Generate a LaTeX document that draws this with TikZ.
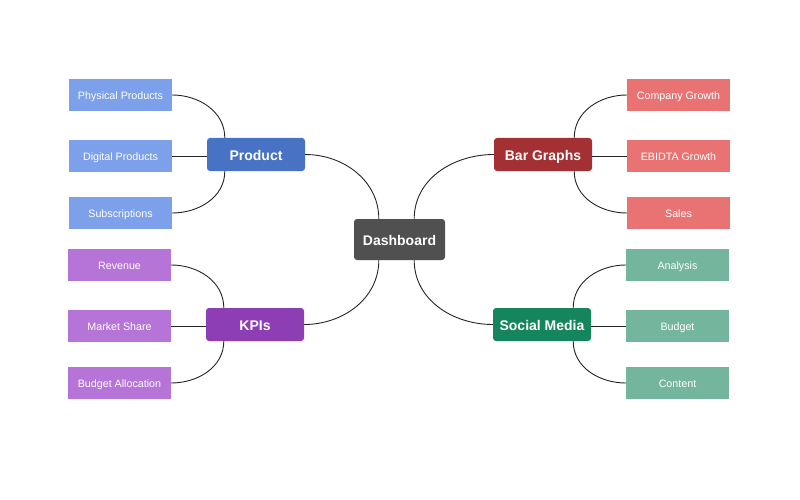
\documentclass[tikz,border=0pt]{standalone}
\usepackage{fontspec}
\setmainfont{Liberation Sans}
\usetikzlibrary{calc}
\definecolor{cdash}{HTML}{505050}
\definecolor{cprod}{HTML}{4872C4}
\definecolor{lprod}{HTML}{7DA0EB}
\definecolor{cbar}{HTML}{A33032}
\definecolor{lbar}{HTML}{E97373}
\definecolor{ckpi}{HTML}{8E3EB4}
\definecolor{lkpi}{HTML}{B673D8}
\definecolor{csoc}{HTML}{15855E}
\definecolor{lsoc}{HTML}{74B69D}
\tikzset{
  mainbox/.style={draw=none, rounded corners=3pt, text=white, font=\bfseries\fontsize{14}{16}\selectfont, inner sep=0pt, minimum height=33pt, text height=11pt, text depth=0pt},
  leafbox/.style={draw=none, text=white, font=\fontsize{10.7}{12}\selectfont, inner sep=0pt, minimum width=103pt, minimum height=32pt, text height=8.5pt, text depth=0pt},
  conn/.style={draw=black!85, line width=0.9pt},
}
\begin{document}
\begin{tikzpicture}[x=1pt,y=-1pt]
\useasboundingbox (0,0) rectangle (800,500);
\fill[white] (0,0) rectangle (800,500);
% main nodes
\node[mainbox, fill=cdash, minimum width=91pt, minimum height=41pt] (dash) at (399.5,239.5) {Dashboard};
\node[mainbox, fill=cprod, minimum width=98pt] (prod) at (256,154.5) {Product};
\node[mainbox, fill=cbar, minimum width=98pt] (bar) at (543,154.5) {Bar Graphs};
\node[mainbox, fill=ckpi, minimum width=98pt] (kpi) at (255,324.5) {KPIs};
\node[mainbox, fill=csoc, minimum width=98pt] (soc) at (542,324.5) {Social Media};
% leaves
\node[leafbox, fill=lprod] (pp) at (120.5,95) {Physical Products};
\node[leafbox, fill=lprod] (dp) at (120.5,156) {Digital Products};
\node[leafbox, fill=lprod] (sub) at (120.5,213) {Subscriptions};
\node[leafbox, fill=lbar] (cg) at (678.5,95) {Company Growth};
\node[leafbox, fill=lbar] (eg) at (678.5,156) {EBIDTA Growth};
\node[leafbox, fill=lbar] (sa) at (678.5,213) {Sales};
\node[leafbox, fill=lkpi] (rev) at (119.5,265) {Revenue};
\node[leafbox, fill=lkpi] (ms) at (119.5,326) {Market Share};
\node[leafbox, fill=lkpi] (ba) at (119.5,383) {Budget Allocation};
\node[leafbox, fill=lsoc] (an) at (677.5,265) {Analysis};
\node[leafbox, fill=lsoc] (bu) at (677.5,326) {Budget};
\node[leafbox, fill=lsoc] (co) at (677.5,383) {Content};
% anchor coordinates
\coordinate (dtl) at ($(dash.north west)+(25,0)$);
\coordinate (dtr) at ($(dash.north east)+(-31,0)$);
\coordinate (dbl) at ($(dash.south west)+(25,0)$);
\coordinate (dbr) at ($(dash.south east)+(-31,0)$);
\coordinate (pt) at ($(prod.north west)+(18,0)$);
\coordinate (pb) at ($(prod.south west)+(18,0)$);
\coordinate (bt) at ($(bar.north east)+(-18,0)$);
\coordinate (bb) at ($(bar.south east)+(-18,0)$);
\coordinate (kt) at ($(kpi.north west)+(18,0)$);
\coordinate (kb) at ($(kpi.south west)+(18,0)$);
\coordinate (st) at ($(soc.north east)+(-18,0)$);
\coordinate (sb) at ($(soc.south east)+(-18,0)$);
% connectors dashboard
\draw[conn] (prod.east) to[out=0,in=90] (dtl);
\draw[conn] (bar.west) to[out=180,in=90] (dtr);
\draw[conn] (kpi.east) to[out=0,in=-90] (dbl);
\draw[conn] (soc.west) to[out=180,in=-90] (dbr);
% product
\draw[conn] (pp.east) to[out=0,in=90] (pt);
\draw[conn] (dp.east) -- (dp.east -| prod.west);
\draw[conn] (sub.east) to[out=0,in=-90] (pb);
% bar
\draw[conn] (cg.west) to[out=180,in=90] (bt);
\draw[conn] (eg.west) -- (eg.west -| bar.east);
\draw[conn] (sa.west) to[out=180,in=-90] (bb);
% kpi
\draw[conn] (rev.east) to[out=0,in=90] (kt);
\draw[conn] (ms.east) -- (ms.east -| kpi.west);
\draw[conn] (ba.east) to[out=0,in=-90] (kb);
% social
\draw[conn] (an.west) to[out=180,in=90] (st);
\draw[conn] (bu.west) -- (bu.west -| soc.east);
\draw[conn] (co.west) to[out=180,in=-90] (sb);
\end{tikzpicture}
\end{document}
